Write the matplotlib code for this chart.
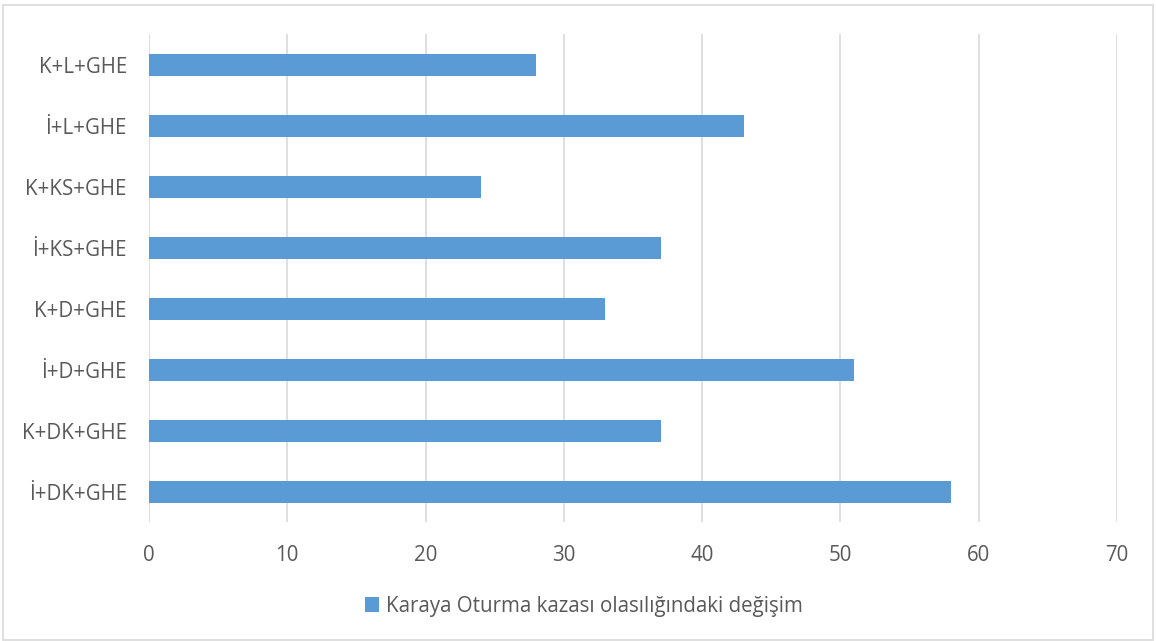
import matplotlib.pyplot as plt
from matplotlib.patches import Rectangle

plt.rcParams['font.family'] = ['Open Sans', 'DejaVu Sans']

# Scenario combinations and the change in grounding accident probability
kategoriler = ['K+L+GHE', 'İ+L+GHE', 'K+KS+GHE', 'İ+KS+GHE',
               'K+D+GHE', 'İ+D+GHE', 'K+DK+GHE', 'İ+DK+GHE']
degerler = [28, 43, 24, 37, 33, 51, 37, 58]
seri_adi = 'Karaya Oturma kazası olasılığındaki değişim'

bar_renk = '#5B9BD5'
yazi_renk = '#595959'
izgara_renk = '#D9D9D9'

fig = plt.figure(figsize=(11.56, 6.41), dpi=100)
ax = fig.add_axes([0.1289, 0.1856, 0.8374, 0.7613])

y = list(range(len(kategoriler)))
ax.barh(y, degerler, height=0.36, color=bar_renk, label=seri_adi, zorder=3)

ax.set_ylim(len(kategoriler) - 0.5, -0.5)
ax.set_yticks(y)
ax.set_yticklabels(kategoriler)
ax.set_xlim(0, 70)
ax.set_xticks(range(0, 71, 10))

ax.grid(axis='x', color=izgara_renk, linewidth=1.2, zorder=0)
for s in ax.spines.values():
    s.set_visible(False)
ax.tick_params(axis='both', length=0, colors=yazi_renk, labelsize=14.8)
ax.tick_params(axis='y', pad=16)
ax.tick_params(axis='x', pad=16.5)

leg = fig.legend(loc='center', bbox_to_anchor=(0.505, 0.054), frameon=False,
                 fontsize=14.8, handlelength=0.7, handleheight=0.7,
                 handletextpad=0.35, labelcolor=yazi_renk)

# light frame around the whole chart
fig.patches.append(Rectangle((0.003, 0.002), 0.994, 0.99, transform=fig.transFigure,
                             fill=False, edgecolor='#D9D9D9', linewidth=1.2))

fig.savefig('out.png', dpi=100)
